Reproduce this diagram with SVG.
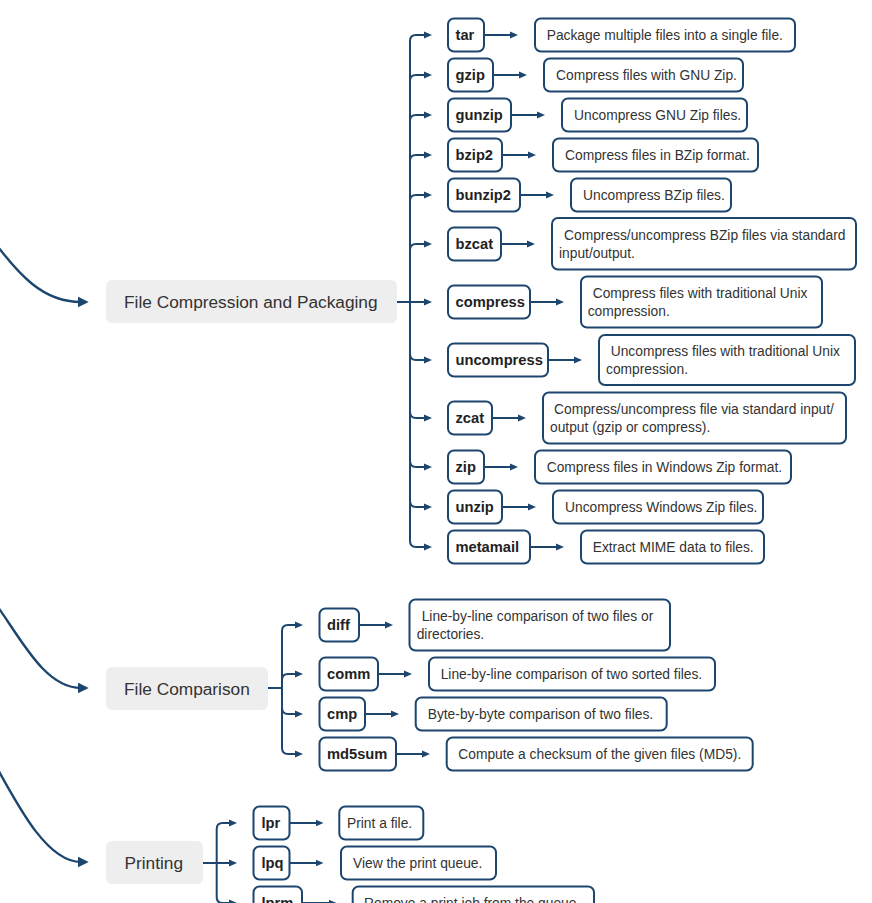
<svg xmlns="http://www.w3.org/2000/svg" width="872" height="903" viewBox="0 0 872 903">
<style>
.cat rect{fill:#eeeeee}
.cat text{font-family:"Liberation Sans",Arial,sans-serif;font-size:17.3px;fill:#333}
.cmd rect,.desc rect{fill:#fff;stroke:#1c466e;stroke-width:2}
.cmd text{font-family:"Liberation Sans",Arial,sans-serif;font-size:14.7px;font-weight:bold;fill:#222}
.desc text{font-family:"Liberation Sans",Arial,sans-serif;font-size:13.8px;fill:#333}
.conn path{fill:none;stroke:#1c466e;stroke-width:2}
.conn path.in{stroke-width:2.4}
</style>
<defs>
<marker id="a" viewBox="0 0 8 8" refX="3" refY="4" markerWidth="8" markerHeight="8" markerUnits="userSpaceOnUse" orient="auto"><path d="M0,0.6 L8,4 L0,7.4 z" fill="#1c466e"/></marker>
<marker id="b" viewBox="0 0 10 10" refX="3" refY="5" markerWidth="11" markerHeight="11" markerUnits="userSpaceOnUse" orient="auto"><path d="M0,0 L10,5 L0,10 z" fill="#1c466e"/></marker>
</defs>
<g class="conn" id="connectors">
<path class="in" d="M-20,222 C20,280 45,302 81,302" marker-end="url(#b)"/>
<path class="in" d="M-15,590 C15,625 40,688 81,688" marker-end="url(#b)"/>
<path class="in" d="M-10,755 C15,800 45,862 81,862" marker-end="url(#b)"/>
<path d="M397,302 H410 V41 Q410,35 416,35 H427" marker-end="url(#a)"/>
<path d="M397,302 H410 V81 Q410,75 416,75 H427" marker-end="url(#a)"/>
<path d="M397,302 H410 V121 Q410,115 416,115 H427" marker-end="url(#a)"/>
<path d="M397,302 H410 V161 Q410,155 416,155 H427" marker-end="url(#a)"/>
<path d="M397,302 H410 V201 Q410,195 416,195 H427" marker-end="url(#a)"/>
<path d="M397,302 H410 V250 Q410,244 416,244 H427" marker-end="url(#a)"/>
<path d="M397,302 H427" marker-end="url(#a)"/>
<path d="M397,302 H410 V354 Q410,360 416,360 H427" marker-end="url(#a)"/>
<path d="M397,302 H410 V412 Q410,418 416,418 H427" marker-end="url(#a)"/>
<path d="M397,302 H410 V461 Q410,467 416,467 H427" marker-end="url(#a)"/>
<path d="M397,302 H410 V501 Q410,507 416,507 H427" marker-end="url(#a)"/>
<path d="M397,302 H410 V541 Q410,547 416,547 H427" marker-end="url(#a)"/>
<path d="M484,35 H513" marker-end="url(#a)"/>
<path d="M493,75 H522" marker-end="url(#a)"/>
<path d="M511,115 H540" marker-end="url(#a)"/>
<path d="M502,155 H531" marker-end="url(#a)"/>
<path d="M520,195 H549" marker-end="url(#a)"/>
<path d="M501,244 H530" marker-end="url(#a)"/>
<path d="M530,302 H559" marker-end="url(#a)"/>
<path d="M548,360 H577" marker-end="url(#a)"/>
<path d="M492,418 H521" marker-end="url(#a)"/>
<path d="M484,467 H513" marker-end="url(#a)"/>
<path d="M502,507 H531" marker-end="url(#a)"/>
<path d="M530,547 H559" marker-end="url(#a)"/>
<path d="M268,688 H282 V631 Q282,625 288,625 H298" marker-end="url(#a)"/>
<path d="M268,688 H282 V680 Q282,674 288,674 H298" marker-end="url(#a)"/>
<path d="M268,688 H282 V708 Q282,714 288,714 H298" marker-end="url(#a)"/>
<path d="M268,688 H282 V748 Q282,754 288,754 H298" marker-end="url(#a)"/>
<path d="M359,625 H388" marker-end="url(#a)"/>
<path d="M378,674 H407" marker-end="url(#a)"/>
<path d="M365,714 H394" marker-end="url(#a)"/>
<path d="M396,754 H425" marker-end="url(#a)"/>
<path d="M203,863 H216.7 V829 Q216.7,823 222.7,823 H232" marker-end="url(#a)"/>
<path d="M203,863 H232" marker-end="url(#a)"/>
<path d="M203,863 H216.7 V897 Q216.7,903 222.7,903 H232" marker-end="url(#a)"/>
<path d="M289.5,823 H318.5" marker-end="url(#a)"/>
<path d="M289.5,863 H318.5" marker-end="url(#a)"/>
<path d="M302,903 H331.5" marker-end="url(#a)"/>
</g>
<g class="cat" id="n-compression"><rect x="106" y="280" width="291" height="43" rx="6"/><text x="124" y="308">File Compression and Packaging</text></g>
<g class="cat" id="n-comparison"><rect x="106" y="667" width="162" height="43" rx="6"/><text x="124" y="695">File Comparison</text></g>
<g class="cat" id="n-printing"><rect x="106" y="841" width="97" height="43" rx="6"/><text x="124.5" y="869">Printing</text></g>

<g class="cmd" id="n-tar"><rect x="448" y="18.5" width="36" height="33" rx="6"/><text x="455.5" y="40">tar</text></g>
<g class="desc" id="d-tar"><rect x="535" y="18.5" width="260" height="33" rx="6"/><text x="546.7" y="40">Package multiple files into a single file.</text></g>
<g class="cmd" id="n-gzip"><rect x="448" y="58.5" width="45" height="33" rx="6"/><text x="455.5" y="80">gzip</text></g>
<g class="desc" id="d-gzip"><rect x="544" y="58.5" width="199" height="33" rx="6"/><text x="556" y="80">Compress files with GNU Zip.</text></g>
<g class="cmd" id="n-gunzip"><rect x="448" y="98.5" width="63" height="33" rx="6"/><text x="455.5" y="120">gunzip</text></g>
<g class="desc" id="d-gunzip"><rect x="562" y="98.5" width="185" height="33" rx="6"/><text x="574" y="120">Uncompress GNU Zip files.</text></g>
<g class="cmd" id="n-bzip2"><rect x="448" y="138.5" width="54" height="33" rx="6"/><text x="455.5" y="160">bzip2</text></g>
<g class="desc" id="d-bzip2"><rect x="553" y="138.5" width="205" height="33" rx="6"/><text x="565" y="160">Compress files in BZip format.</text></g>
<g class="cmd" id="n-bunzip2"><rect x="448" y="178.5" width="72" height="33" rx="6"/><text x="455.5" y="200">bunzip2</text></g>
<g class="desc" id="d-bunzip2"><rect x="571" y="178.5" width="160" height="33" rx="6"/><text x="583" y="200">Uncompress BZip files.</text></g>
<g class="cmd" id="n-bzcat"><rect x="448" y="227.5" width="53" height="33" rx="6"/><text x="455.5" y="249">bzcat</text></g>
<g class="desc" id="d-bzcat"><rect x="552" y="218" width="304" height="51.5" rx="6"/><text x="564" y="240">Compress/uncompress BZip files via standard</text><text x="559" y="258">input/output.</text></g>
<g class="cmd" id="n-compress"><rect x="448" y="285.5" width="82" height="33" rx="6"/><text x="455.5" y="307">compress</text></g>
<g class="desc" id="d-compress"><rect x="581" y="276.5" width="241" height="51" rx="6"/><text x="592.7" y="297.5">Compress files with traditional Unix</text><text x="587.7" y="316">compression.</text></g>
<g class="cmd" id="n-uncompress"><rect x="448" y="343.5" width="100" height="33" rx="6"/><text x="455.5" y="365">uncompress</text></g>
<g class="desc" id="d-uncompress"><rect x="599" y="335" width="256" height="50" rx="6"/><text x="610.7" y="356">Uncompress files with traditional Unix</text><text x="606" y="374">compression.</text></g>
<g class="cmd" id="n-zcat"><rect x="448" y="401.5" width="44" height="33" rx="6"/><text x="455.5" y="423">zcat</text></g>
<g class="desc" id="d-zcat"><rect x="543" y="392.5" width="303" height="51" rx="6"/><text x="554" y="414.3">Compress/uncompress file via standard input/</text><text x="550" y="431.7">output (gzip or compress).</text></g>
<g class="cmd" id="n-zip"><rect x="448" y="450.5" width="36" height="33" rx="6"/><text x="455.5" y="472">zip</text></g>
<g class="desc" id="d-zip"><rect x="535" y="450.5" width="256" height="33" rx="6"/><text x="546.7" y="472">Compress files in Windows Zip format.</text></g>
<g class="cmd" id="n-unzip"><rect x="448" y="490.5" width="54" height="33" rx="6"/><text x="455.5" y="512">unzip</text></g>
<g class="desc" id="d-unzip"><rect x="553" y="490.5" width="210" height="33" rx="6"/><text x="565" y="512">Uncompress Windows Zip files.</text></g>
<g class="cmd" id="n-metamail"><rect x="448" y="530.5" width="82" height="33" rx="6"/><text x="455.5" y="552">metamail</text></g>
<g class="desc" id="d-metamail"><rect x="581" y="530.5" width="183" height="33" rx="6"/><text x="592.7" y="552">Extract MIME data to files.</text></g>

<g class="cmd" id="n-diff"><rect x="319.5" y="608.5" width="39.5" height="33" rx="6"/><text x="327" y="630">diff</text></g>
<g class="desc" id="d-diff"><rect x="409.5" y="599.5" width="260.5" height="51" rx="6"/><text x="421.7" y="621">Line-by-line comparison of two files or</text><text x="416.7" y="639">directories.</text></g>
<g class="cmd" id="n-comm"><rect x="319.5" y="657.5" width="58.5" height="33" rx="6"/><text x="327" y="679">comm</text></g>
<g class="desc" id="d-comm"><rect x="429" y="657.5" width="286" height="33" rx="6"/><text x="440.7" y="679">Line-by-line comparison of two sorted files.</text></g>
<g class="cmd" id="n-cmp"><rect x="319.5" y="697.5" width="45.5" height="33" rx="6"/><text x="327" y="719">cmp</text></g>
<g class="desc" id="d-cmp"><rect x="415.7" y="697.5" width="251" height="33" rx="6"/><text x="427.7" y="719">Byte-by-byte comparison of two files.</text></g>
<g class="cmd" id="n-md5sum"><rect x="319.5" y="737.5" width="76.5" height="33" rx="6"/><text x="327" y="759">md5sum</text></g>
<g class="desc" id="d-md5sum"><rect x="446.7" y="737.5" width="306" height="33" rx="6"/><text x="458.3" y="759">Compute a checksum of the given files (MD5).</text></g>

<g class="cmd" id="n-lpr"><rect x="253.5" y="806.5" width="36" height="33" rx="6"/><text x="261.5" y="828">lpr</text></g>
<g class="desc" id="d-lpr"><rect x="339.3" y="806.5" width="84" height="33" rx="6"/><text x="347" y="828">Print a file.</text></g>
<g class="cmd" id="n-lpq"><rect x="253.5" y="846.5" width="36" height="33" rx="6"/><text x="261.5" y="868">lpq</text></g>
<g class="desc" id="d-lpq"><rect x="341" y="846.5" width="155" height="33" rx="6"/><text x="353" y="868">View the print queue.</text></g>
<g class="cmd" id="n-lprm"><rect x="253.5" y="886.5" width="48.5" height="33" rx="6"/><text x="261.5" y="908">lprm</text></g>
<g class="desc" id="d-lprm"><rect x="352.7" y="886.5" width="241.3" height="33" rx="6"/><text x="364" y="908">Remove a print job from the queue.</text></g>
</svg>
